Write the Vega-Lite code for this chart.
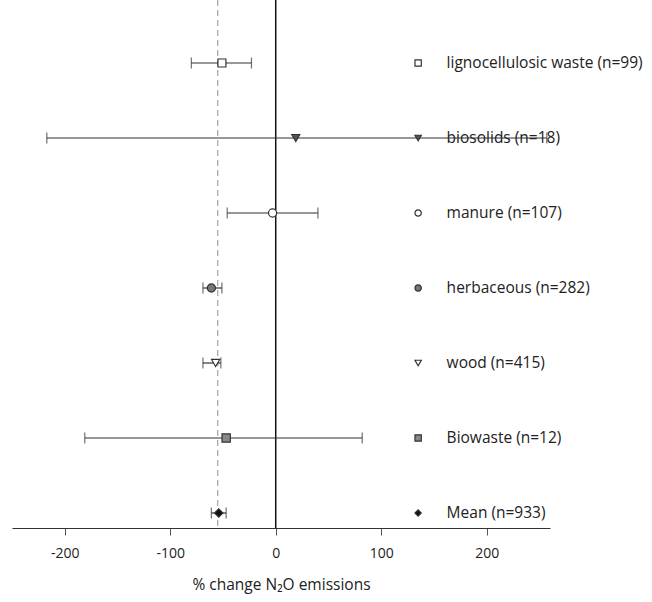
{
  "$schema": "https://vega.github.io/schema/vega-lite/v6.json",
  "width": 538,
  "height": 528,
  "autosize": {"type": "none"},
  "padding": {"left": 12, "top": 0, "right": 102, "bottom": 74},
  "background": "white",
  "config": {"view": {"stroke": null}, "font": "Open Sans"},
  "data": {
    "values": [
      {"label": "lignocellulosic waste (n=99)", "mean": -51, "lo": -80, "hi": -23},
      {"label": "biosolids (n=18)", "mean": 19, "lo": -217, "hi": 257},
      {"label": "manure (n=107)", "mean": -3, "lo": -46, "hi": 40},
      {"label": "herbaceous (n=282)", "mean": -61, "lo": -69, "hi": -51},
      {"label": "wood (n=415)", "mean": -57, "lo": -69, "hi": -52},
      {"label": "Biowaste (n=12)", "mean": -47, "lo": -181, "hi": 82},
      {"label": "Mean (n=933)", "mean": -54, "lo": -61, "hi": -47}
    ]
  },
  "encoding": {
    "y": {
      "field": "label", "type": "nominal", "sort": null,
      "scale": {"type": "point", "range": [63, 513], "padding": 0},
      "axis": null
    }
  },
  "layer": [
    {
      "data": {"values": [{"v": 0}]},
      "mark": {"type": "rule", "color": "#111", "strokeWidth": 1.5},
      "encoding": {"x": {"field": "v", "type": "quantitative", "scale": {"domain": [-250, 260], "nice": false, "zero": false},
        "axis": {"title": "% change N₂O emissions", "values": [-200, -100, 0, 100, 200], "grid": false,
          "labelExpr": "toString(datum.value)",
          "domainColor": "#333", "domainWidth": 1.2, "tickColor": "#555", "tickSize": 7, "labelFontSize": 14,
          "labelColor": "#222", "labelPadding": 11, "titleFontSize": 15.5, "titleFontWeight": "normal",
          "titleColor": "#222", "titlePadding": 17}}, "y": null}
    },
    {
      "data": {"values": [{"v": -55}]},
      "mark": {"type": "rule", "color": "#aaa", "strokeWidth": 1.3, "strokeDash": [6, 4]},
      "encoding": {"x": {"field": "v", "type": "quantitative"}, "y": null}
    },
    {
      "mark": {"type": "rule", "color": "#333", "strokeWidth": 1.2},
      "encoding": {"x": {"field": "lo", "type": "quantitative"}, "x2": {"field": "hi"}}
    },
    {
      "mark": {"type": "tick", "orient": "vertical", "color": "#333", "size": 11, "thickness": 1.2},
      "encoding": {"x": {"field": "lo", "type": "quantitative"}}
    },
    {
      "mark": {"type": "tick", "orient": "vertical", "color": "#333", "size": 11, "thickness": 1.2},
      "encoding": {"x": {"field": "hi", "type": "quantitative"}}
    },
    {
      "mark": {"type": "point", "filled": true, "stroke": "#333", "strokeWidth": 1.2, "opacity": 1},
      "encoding": {
        "x": {"field": "mean", "type": "quantitative"},
        "shape": {"field": "label", "type": "nominal", "legend": null,
          "scale": {"domain": ["lignocellulosic waste (n=99)", "biosolids (n=18)", "manure (n=107)", "herbaceous (n=282)", "wood (n=415)", "Biowaste (n=12)", "Mean (n=933)"],
            "range": ["square", "triangle-down", "circle", "circle", "triangle-down", "square", "diamond"]}},
        "fill": {"field": "label", "type": "nominal", "legend": null,
          "scale": {"domain": ["lignocellulosic waste (n=99)", "biosolids (n=18)", "manure (n=107)", "herbaceous (n=282)", "wood (n=415)", "Biowaste (n=12)", "Mean (n=933)"],
            "range": ["white", "#555", "white", "#777", "white", "#888", "#111"]}},
        "size": {"field": "label", "type": "nominal", "legend": null,
          "scale": {"domain": ["lignocellulosic waste (n=99)", "biosolids (n=18)", "manure (n=107)", "herbaceous (n=282)", "wood (n=415)", "Biowaste (n=12)", "Mean (n=933)"],
            "range": [64, 70, 120, 70, 70, 70, 80]}}
      }
    },
    {
      "mark": {"type": "point", "filled": true, "stroke": "#333", "strokeWidth": 1.2, "opacity": 1},
      "encoding": {
        "x": {"datum": 135, "type": "quantitative"},
        "shape": {"field": "label", "type": "nominal", "legend": null},
        "fill": {"field": "label", "type": "nominal", "legend": null},
        "size": {"value": 40}
      }
    },
    {
      "mark": {"type": "text", "align": "left", "baseline": "middle", "fontSize": 15.5, "color": "#222"},
      "encoding": {
        "x": {"datum": 162, "type": "quantitative"},
        "text": {"field": "label"}
      }
    }
  ]
}
